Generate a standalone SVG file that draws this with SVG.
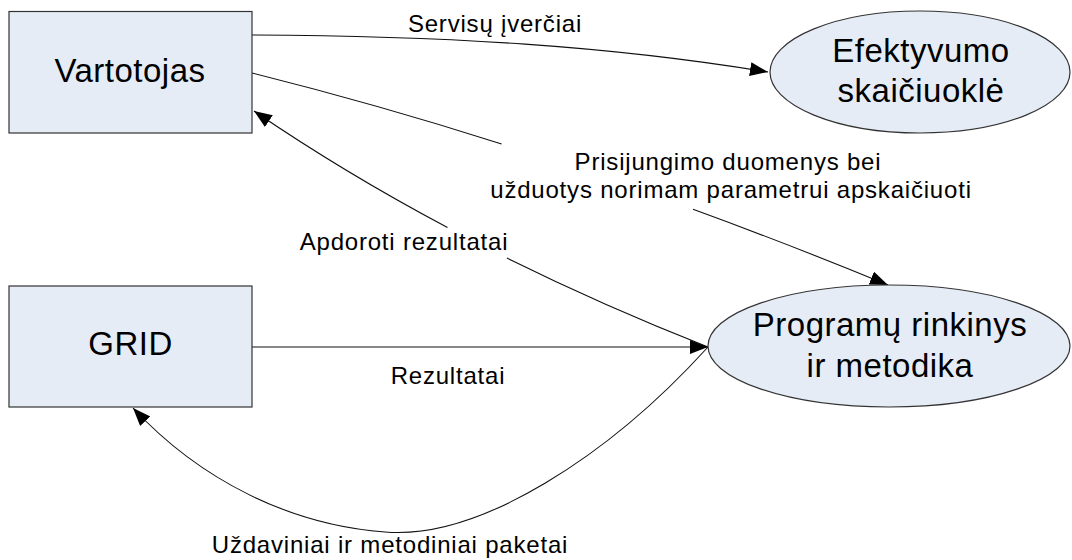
<svg xmlns="http://www.w3.org/2000/svg" width="1072" height="560" viewBox="0 0 1072 560">
  <style>
    .node { fill: #e6ecf6; stroke: #333333; stroke-width: 1.2; }
    .nlabel { font-family: "Liberation Sans", Arial, sans-serif; font-size: 33px; letter-spacing: 0.5px; fill: #000000; text-anchor: middle; }
    .elabel { font-family: "Liberation Sans", Arial, sans-serif; font-size: 24px; letter-spacing: 0.8px; fill: #000000; text-anchor: middle; }
    .edge { fill: none; stroke: #111111; stroke-width: 1.1; }
  </style>
  <defs>
    <marker id="arrow" markerUnits="userSpaceOnUse" markerWidth="20" markerHeight="16" refX="18" refY="7" orient="auto">
      <path d="M0,0 L18,7 L0,14 Z" fill="#000000"/>
    </marker>
  </defs>
  <rect width="1072" height="560" fill="#ffffff"/>

  <!-- connectors -->
  <g id="connectors">
    <!-- Vartotojas -> Efektyvumo skaiciuokle -->
    <path class="edge" d="M252,35 C450,36 610,46 768,72" marker-end="url(#arrow)"/>
    <!-- Vartotojas -> Programu rinkinys (split around its label) -->
    <path class="edge" d="M252,73 Q375.2,103.8 501.6,143.9"/>
    <path class="edge" d="M693,209.3 Q789.6,244.5 888,285" marker-end="url(#arrow)"/>
    <!-- Programu rinkinys -> Vartotojas (split around its label) -->
    <path class="edge" d="M708,347 Q602.2,305.2 506.9,258"/>
    <path class="edge" d="M447.5,227.5 Q344.2,172.6 254,111" marker-end="url(#arrow)"/>
    <!-- GRID -> Programu rinkinys -->
    <path class="edge" d="M252,347 L708,347" marker-end="url(#arrow)"/>
    <!-- Programu rinkinys -> GRID -->
    <path class="edge" d="M708,347 C610,455 480,540 385,532 C290,525 200,480 133,408" marker-end="url(#arrow)"/>

    <text class="elabel" x="495" y="32">Servisų įverčiai</text>
    <text class="elabel" x="728" y="170">Prisijungimo duomenys bei</text>
    <text class="elabel" x="731" y="198">užduotys norimam parametrui apskaičiuoti</text>
    <text class="elabel" x="404" y="250">Apdoroti rezultatai</text>
    <text class="elabel" x="448" y="384">Rezultatai</text>
    <text class="elabel" x="390" y="553">Uždaviniai ir metodiniai paketai</text>
  </g>

  <!-- nodes -->
  <g id="vartotojas">
    <rect class="node" x="9" y="11.5" width="243" height="121.5"/>
    <text class="nlabel" x="130" y="82">Vartotojas</text>
  </g>
  <g id="grid">
    <rect class="node" x="9" y="286" width="243" height="121"/>
    <text class="nlabel" x="130.5" y="355">GRID</text>
  </g>
  <g id="efektyvumo">
    <ellipse class="node" cx="920" cy="72" rx="150" ry="61"/>
    <text class="nlabel" x="921" y="62">Efektyvumo</text>
    <text class="nlabel" x="921" y="102">skaičiuoklė</text>
  </g>
  <g id="programos">
    <ellipse class="node" cx="889" cy="346" rx="181" ry="61"/>
    <text class="nlabel" x="890" y="336">Programų rinkinys</text>
    <text class="nlabel" x="890" y="377">ir metodika</text>
  </g>
</svg>
